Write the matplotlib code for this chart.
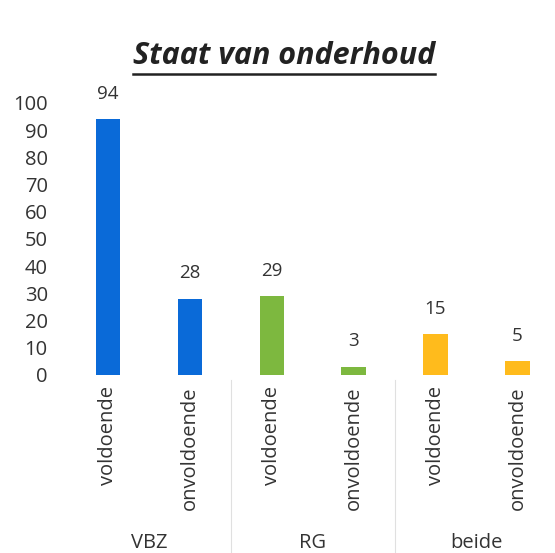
import matplotlib.pyplot as plt
from matplotlib.lines import Line2D

groups = ['VBZ', 'RG', 'beide']
labels = ['voldoende', 'onvoldoende', 'voldoende', 'onvoldoende', 'voldoende', 'onvoldoende']
values = [94, 28, 29, 3, 15, 5]
colors = ['#0a6ad8', '#0a6ad8', '#7db83f', '#7db83f', '#ffbb1c', '#ffbb1c']

plt.rcParams['font.family'] = ['Open Sans', 'DejaVu Sans']

fig = plt.figure(figsize=(5.55, 5.53), dpi=100)
ax = fig.add_axes([0.121, 0.322, 0.885, 0.492])

x = range(len(values))
bars = ax.bar(x, values, width=0.3, color=colors)
for b, v in zip(bars, values):
    ax.text(b.get_x() + b.get_width() / 2, v + 6, str(v), ha='center', va='bottom',
            fontsize=13.5, color='#333333')

ax.set_xlim(-0.5, 5.5)
ax.set_ylim(0, 100)
ax.set_yticks(range(0, 101, 10))
ax.tick_params(axis='y', length=0, labelsize=14.5, pad=14, colors='#333333')
ax.set_xticks(list(x))
ax.set_xticklabels(labels, rotation=90, fontsize=14.5, color='#333333', va='top')
ax.tick_params(axis='x', length=0, pad=8)
for s in ax.spines.values():
    s.set_visible(False)

# group labels and separators
for i, g in enumerate(groups):
    ax.text(2 * i + 0.5, -0.618, g, transform=ax.get_xaxis_transform(), ha='center',
            va='center', fontsize=14.5, color='#333333')
for sep in [1.5, 3.5]:
    ax.add_line(Line2D([sep, sep], [-0.02, -0.65], transform=ax.get_xaxis_transform(),
                       color='#e0e0e0', lw=0.8, clip_on=False))

t = fig.text(0.512, 0.898, 'Staat van onderhoud', ha='center', va='center',
             fontsize=22, fontweight='bold', fontstyle='italic', color='#222222')
fig.canvas.draw()
bb = t.get_window_extent().transformed(fig.transFigure.inverted())
fig.add_artist(Line2D([bb.x0, bb.x1], [bb.y0 - 0.004, bb.y0 - 0.004],
                      transform=fig.transFigure, color='#222222', lw=1.8))

fig.savefig('out.png', dpi=100)
